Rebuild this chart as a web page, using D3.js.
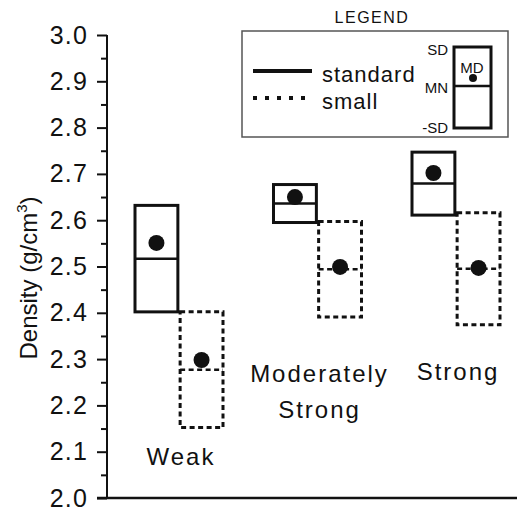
<!DOCTYPE html>
<html>
<head>
<meta charset="utf-8">
<script src="https://cdn.jsdelivr.net/npm/d3@7"></script>
<style>
  html, body { margin: 0; padding: 0; background: #fff; }
  svg { display: block; font-family: "Liberation Sans", Arial, sans-serif; }
</style>
</head>
<body>
<svg id="chart" width="517" height="509"></svg>
<script>
// Rock strength classes and the two specimen sizes
const categories = ["Weak", "Moderately Strong", "Strong"];
const sizes = ["standard", "small"];

// Mean (MN), standard deviation (SD) and median (MD) of density, g/cm³
const standardMean = [2.517, 2.636, 2.679];
const standardSD   = [0.115, 0.041, 0.068];
const standardMD   = [2.551, 2.650, 2.702];
const smallMean    = [2.277, 2.494, 2.495];
const smallSD      = [0.125, 0.103, 0.121];
const smallMD      = [2.298, 2.499, 2.497];

const yTicks = [2.0, 2.1, 2.2, 2.3, 2.4, 2.5, 2.6, 2.7, 2.8, 2.9, 3.0];
const yMinorTicks = [2.05, 2.15, 2.25, 2.35, 2.45, 2.55, 2.65, 2.75, 2.85, 2.95];

const rows = [];
categories.forEach((c, i) => {
  rows.push({cat: c, size: "standard", mean: standardMean[i], sd: standardSD[i], md: standardMD[i]});
  rows.push({cat: c, size: "small", mean: smallMean[i], sd: smallSD[i], md: smallMD[i]});
});

const svg = d3.select("#chart");
const axisX = 107;

const y = d3.scaleLinear().domain([2.0, 3.0]).range([498, 35]);
const x = d3.scalePoint().domain(categories).range([179, 456]);
const sub = d3.scaleBand().domain(sizes).range([-44, 44]).paddingInner(0.05);

const dashFor = s => s === "small" ? "5,3.5" : null;

// Boxes: mean ± SD, with a line at the mean and a dot at the median
const g = svg.append("g");
rows.forEach(r => {
  const x0 = x(r.cat) + sub(r.size);
  const w = sub.bandwidth();
  g.append("rect")
    .attr("x", x0).attr("y", y(r.mean + r.sd))
    .attr("width", w).attr("height", y(r.mean - r.sd) - y(r.mean + r.sd))
    .attr("fill", "none").attr("stroke", "#111").attr("stroke-width", 3)
    .attr("stroke-dasharray", dashFor(r.size));
  g.append("line")
    .attr("x1", x0).attr("x2", x0 + w)
    .attr("y1", y(r.mean)).attr("y2", y(r.mean))
    .attr("stroke", "#111").attr("stroke-width", 2.5)
    .attr("stroke-dasharray", dashFor(r.size));
  g.append("circle")
    .attr("cx", x0 + w / 2).attr("cy", y(r.md)).attr("r", 8)
    .attr("fill", "#111");
});

// Y axis with labelled major ticks and short minor ticks
const yAxis = d3.axisLeft(y).tickValues(yTicks).tickFormat(d3.format(".1f"))
  .tickSize(10).tickPadding(9);
const ya = svg.append("g").attr("transform", `translate(${axisX},0)`).call(yAxis);
ya.select(".domain").remove();
ya.selectAll(".tick line").attr("stroke", "#111").attr("stroke-width", 2);
ya.selectAll(".tick text").style("font-size", "25px").style("letter-spacing", "1.2px")
  .attr("fill", "#111").style("font-family", "Liberation Sans, Arial, sans-serif");

const yMinor = d3.axisLeft(y).tickValues(yMinorTicks).tickSize(6).tickFormat("");
const ym = svg.append("g").attr("transform", `translate(${axisX},0)`).call(yMinor);
ym.select(".domain").remove();
ym.selectAll(".tick line").attr("stroke", "#111").attr("stroke-width", 2);

svg.append("line").attr("x1", axisX).attr("x2", axisX)
  .attr("y1", y(3.0)).attr("y2", y(2.0)).attr("stroke", "#111").attr("stroke-width", 2);
svg.append("line").attr("x1", axisX - 10).attr("x2", 517)
  .attr("y1", y(2.0)).attr("y2", y(2.0)).attr("stroke", "#111").attr("stroke-width", 2.5);

// Axis title
svg.append("text")
  .attr("transform", `translate(37,${278}) rotate(-90)`)
  .attr("text-anchor", "middle").style("font-size", "24px").attr("fill", "#111")
  .text("Density (g/cm")
  .append("tspan").attr("dy", -10).style("font-size", "15px").text("3")
  .select(function () { return this.parentNode; })
  .append("tspan").attr("dy", 10).style("font-size", "24px").text(")");

// Category labels placed below each group
const catLabels = [
  {cat: "Weak", lines: ["Weak"], y: 465},
  {cat: "Moderately Strong", lines: ["Moderately", "Strong"], y: 382},
  {cat: "Strong", lines: ["Strong"], y: 380}
];
catLabels.forEach(l => {
  const t = svg.append("text").attr("text-anchor", "middle")
    .attr("font-size", 24).attr("letter-spacing", 2).attr("fill", "#111");
  l.lines.forEach((s, i) => {
    t.append("tspan").attr("x", x(l.cat) + 2).attr("y", l.y + i * 36).text(s);
  });
});

// Legend
svg.append("text").attr("x", 372).attr("y", 23).attr("text-anchor", "middle")
  .attr("font-size", 16).attr("letter-spacing", 1.5).attr("fill", "#111").text("LEGEND");
svg.append("rect").attr("x", 242).attr("y", 31).attr("width", 266).attr("height", 106)
  .attr("fill", "#fff").attr("stroke", "#555").attr("stroke-width", 1.5);

const legendItems = [
  {size: "standard", y: 71, dash: null},
  {size: "small", y: 98, dash: "4,8"}
];
legendItems.forEach(it => {
  svg.append("line").attr("x1", 253).attr("x2", 312).attr("y1", it.y).attr("y2", it.y)
    .attr("stroke", "#111").attr("stroke-width", 4).attr("stroke-dasharray", it.dash);
  svg.append("text").attr("x", 322).attr("y", it.y + 11).attr("font-size", 22)
    .attr("letter-spacing", 1).attr("fill", "#111").text(it.size);
});

// Key box explaining SD / MN / MD
svg.append("rect").attr("x", 454).attr("y", 47).attr("width", 37).attr("height", 81)
  .attr("fill", "none").attr("stroke", "#111").attr("stroke-width", 3);
svg.append("line").attr("x1", 454).attr("x2", 491).attr("y1", 86).attr("y2", 86)
  .attr("stroke", "#111").attr("stroke-width", 2.5);
svg.append("circle").attr("cx", 473).attr("cy", 78).attr("r", 4).attr("fill", "#111");
svg.append("text").attr("x", 472).attr("y", 73).attr("text-anchor", "middle")
  .attr("font-size", 15).attr("fill", "#111").text("MD");
[["SD", 55], ["MN", 93], ["-SD", 133]].forEach(([s, yy]) => {
  svg.append("text").attr("x", 448).attr("y", yy).attr("text-anchor", "end")
    .attr("font-size", 15).attr("fill", "#111").text(s);
});
</script>
</body>
</html>
